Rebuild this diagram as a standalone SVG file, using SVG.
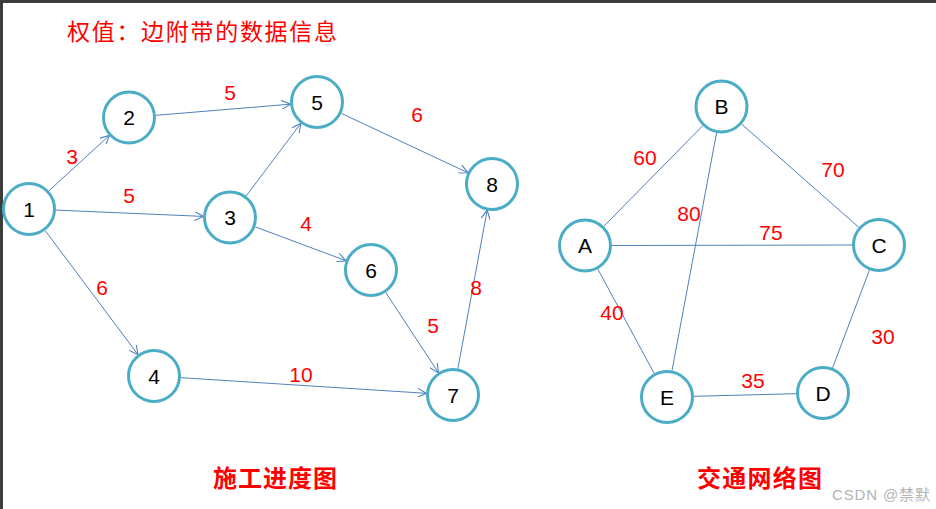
<svg xmlns="http://www.w3.org/2000/svg" width="936" height="509" viewBox="0 0 936 509">
<defs>
<marker id="arr" viewBox="0 0 10 10" refX="9.5" refY="5" markerWidth="9" markerHeight="9" markerUnits="userSpaceOnUse" orient="auto">
<path d="M0,0 L10,5 L0,10" fill="none" stroke="#4F81BD" stroke-width="1.2"/>
</marker>
</defs>
<style>
.n circle{fill:#fff;stroke:#4BACC6;stroke-width:3}
.n text{font-family:"Liberation Sans",Arial,sans-serif;font-size:21px;fill:#000;text-anchor:middle}
.e line{stroke:#4F81BD;stroke-width:1}
.d line{marker-end:url(#arr)}
.w{font-family:"Liberation Sans",Arial,sans-serif;font-size:21px;fill:#FF0000;text-anchor:middle}
.t{font-family:"Noto Sans CJK SC",sans-serif;fill:#FF0000}
</style>
<rect width="936" height="509" fill="#fff"/>
<rect x="0" y="0" width="936" height="3" fill="#3c3c3c"/>
<rect x="0" y="0" width="3" height="509" fill="#3c3c3c"/>
<text class="t" x="67" y="40" font-size="23" textLength="270">权值：边附带的数据信息</text>
<g id="connectors" class="e">
<g class="d">
<line x1="48.9" y1="190.8" x2="109.1" y2="135.7"/>
<line x1="155.9" y1="115.3" x2="290.1" y2="104.2"/>
<line x1="56" y1="210.1" x2="203" y2="216.4"/>
<line x1="246.2" y1="195.9" x2="300.7" y2="123.6"/>
<line x1="255.3" y1="226.9" x2="345.7" y2="260.6"/>
<line x1="341.4" y1="113.4" x2="467.6" y2="172.6"/>
<line x1="45.2" y1="230.6" x2="137.8" y2="354.4"/>
<line x1="385.8" y1="292.6" x2="438.2" y2="372.4"/>
<line x1="181" y1="377.7" x2="426" y2="393.3"/>
<line x1="457.9" y1="368.5" x2="487.1" y2="210.5"/>
</g>
<line x1="603.9" y1="226.2" x2="702.6" y2="125.8"/>
<line x1="741.8" y1="124.3" x2="858.7" y2="227.2"/>
<line x1="612" y1="245.5" x2="852" y2="245"/>
<line x1="716.5" y1="133.1" x2="672" y2="370.5"/>
<line x1="597.9" y1="269.2" x2="654.1" y2="373.3"/>
<line x1="694" y1="396.3" x2="796" y2="393.7"/>
<line x1="869.4" y1="270.2" x2="832.6" y2="367.8"/>
</g>
<g id="weights">
<text class="w" x="72" y="164">3</text>
<text class="w" x="230" y="100">5</text>
<text class="w" x="129" y="203">5</text>
<text class="w" x="306" y="231">4</text>
<text class="w" x="417" y="122">6</text>
<text class="w" x="102" y="295">6</text>
<text class="w" x="433" y="333">5</text>
<text class="w" x="476" y="295">8</text>
<text class="w" x="301" y="382">10</text>
<text class="w" x="645" y="165">60</text>
<text class="w" x="833" y="177">70</text>
<text class="w" x="689" y="221">80</text>
<text class="w" x="771" y="240">75</text>
<text class="w" x="612" y="320">40</text>
<text class="w" x="883" y="344">30</text>
<text class="w" x="753" y="388">35</text>
</g>
<g id="n1" class="n"><circle cx="29" cy="209" r="25.5"/><text x="29" y="216.5">1</text></g>
<g id="n2" class="n"><circle cx="129" cy="117.5" r="25.5"/><text x="129" y="125">2</text></g>
<g id="n3" class="n"><circle cx="230" cy="217.5" r="25.5"/><text x="230" y="225">3</text></g>
<g id="n4" class="n"><circle cx="154" cy="376" r="25.5"/><text x="154" y="383.5">4</text></g>
<g id="n5" class="n"><circle cx="317" cy="102" r="25.5"/><text x="317" y="109.5">5</text></g>
<g id="n6" class="n"><circle cx="371" cy="270" r="25.5"/><text x="371" y="277.5">6</text></g>
<g id="n7" class="n"><circle cx="453" cy="395" r="25.5"/><text x="453" y="402.5">7</text></g>
<g id="n8" class="n"><circle cx="492" cy="184" r="25.5"/><text x="492" y="191.5">8</text></g>
<g id="nA" class="n"><circle cx="585" cy="245.5" r="25.5"/><text x="585" y="253">A</text></g>
<g id="nB" class="n"><circle cx="721.5" cy="106.5" r="25.5"/><text x="721.5" y="114">B</text></g>
<g id="nC" class="n"><circle cx="879" cy="245" r="25.5"/><text x="879" y="252.5">C</text></g>
<g id="nD" class="n"><circle cx="823" cy="393" r="25.5"/><text x="823" y="400.5">D</text></g>
<g id="nE" class="n"><circle cx="667" cy="397" r="25.5"/><text x="667" y="404.5">E</text></g>
<text class="t" x="213" y="487" font-size="24" font-weight="bold" textLength="124">施工进度图</text>
<text class="t" x="697" y="487" font-size="24" font-weight="bold" textLength="125">交通网络图</text>
<text x="832" y="500" font-family="'Liberation Sans','Noto Sans CJK SC',sans-serif" font-size="15" fill="#b4b4b4" textLength="98">CSDN @禁默</text>
</svg>
